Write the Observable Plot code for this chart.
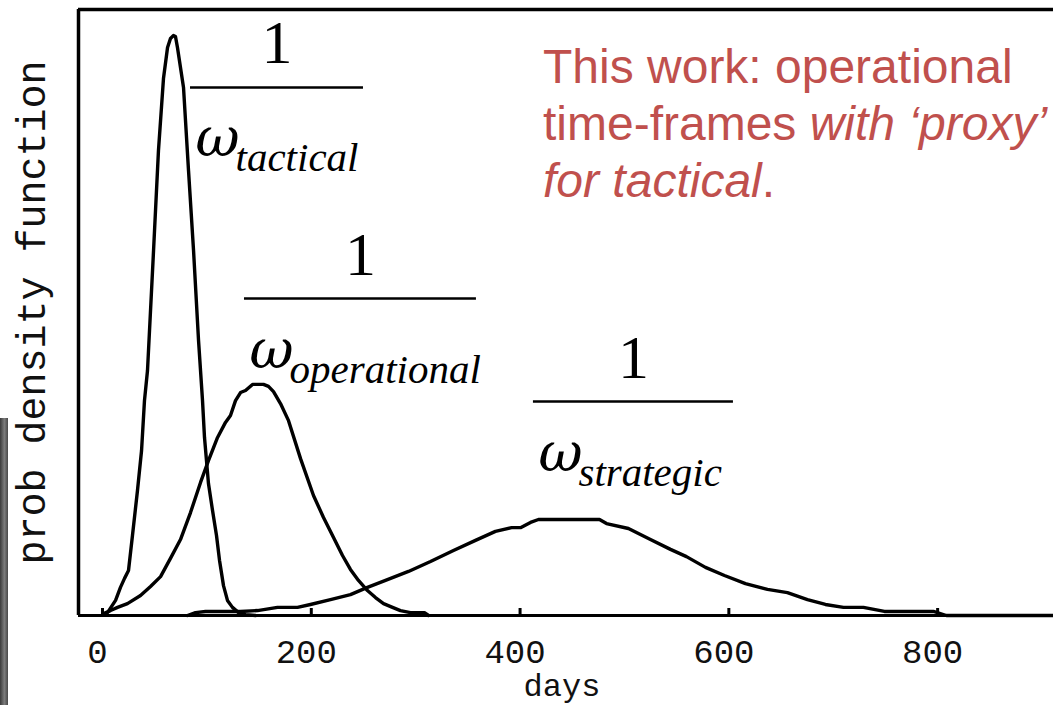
<!DOCTYPE html>
<html>
<head>
<meta charset="utf-8">
<script src="https://cdn.jsdelivr.net/npm/d3@7"></script>
<script src="https://cdn.jsdelivr.net/npm/@observablehq/plot@0.6"></script>
<style>
  body { margin: 0; background: #fff; }
  #wrap { position: relative; width: 1053px; height: 705px; overflow: hidden; background: #fff; }
  #strip { position: absolute; left: 0; top: 418px; width: 8px; height: 287px;
           background: linear-gradient(to right, #3a3a3a, #7c7c7c 55%, #484848); }
  #note { position: absolute; left: 543px; top: 38px; white-space: nowrap;
          font-family: "Liberation Sans", Arial, sans-serif; font-size: 48px; line-height: 57px; color: #c0504d; }
  #note i { font-style: italic; }
</style>
</head>
<body>
<div id="wrap">
  <div id="chart"></div>
  <div id="strip"></div>
  <div id="note">This work: operational<br>time-frames <i>with ‘proxy’</i><br><i>for tactical</i>.</div>
</div>
<script>
// ---- data (days, probability density ×10⁻³ per day) ----
const tacticalDays = [1.0,4.8,12.5,17.2,21.1,24.9,28.7,33.5,37.4,40.2,43.1,48.9,53.6,58.4,62.3,65.1,68.0,69.9,71.8,77.6,82.4,87.2,92.0,95.8,97.7,101.5,105.4,109.2,112.1,115.9,119.7,124.5,130.3,137.0,146.6];
const tacticalPdf  = [0.03,0.10,0.52,0.97,1.28,1.55,2.76,4.31,5.69,7.41,8.45,12.59,16.03,18.52,19.59,19.90,20.00,19.97,19.59,18.21,15.34,12.59,9.48,7.41,6.14,4.55,3.62,2.76,1.90,1.03,0.52,0.28,0.10,0.03,0];

const operationalDays = [1.0,7.7,14.4,23.9,36.4,46.0,55.6,65.1,74.7,84.3,93.9,101.5,110.2,117.8,122.6,127.4,132.2,137.0,143.7,154.2,159.0,163.8,170.5,178.2,189.7,202.1,211.7,221.3,229.9,237.5,245.2,253.8,261.5,269.2,277.8,285.4,295.0,308.4,312.3];
const operationalPdf  = [0.07,0.17,0.28,0.41,0.69,1.00,1.34,1.97,2.62,3.55,4.59,5.34,6.14,6.66,6.90,7.41,7.69,7.76,7.97,7.97,7.90,7.72,7.31,6.72,5.41,4.14,3.38,2.69,2.07,1.59,1.21,0.86,0.62,0.41,0.28,0.17,0.10,0.10,0];

const strategicDays = [81.4,89.1,98.7,132.2,148.5,167.6,186.8,199.2,218.4,237.5,253.8,271.1,293.1,314.2,336.2,357.3,376.4,391.8,400.4,410.0,417.6,476.1,482.8,503.8,524.9,544.1,559.4,577.6,595.8,615.9,637.0,656.1,675.3,692.5,709.8,728.9,749.0,796.0,808.4,910.0];
const strategicPdf  = [0,0.10,0.14,0.14,0.17,0.28,0.28,0.38,0.55,0.72,0.97,1.21,1.52,1.86,2.24,2.59,2.90,3.03,3.03,3.21,3.31,3.31,3.17,3.00,2.62,2.28,2.03,1.66,1.38,1.10,0.90,0.79,0.55,0.38,0.28,0.28,0.14,0.14,0,0];

// axis
const xDomain = [-23, 911];
const yDomain = [0, 20.9];
const tickValues = [0, 200, 400, 600, 800];
const xLabel = "days";
const yLabel = "prob density function";

// fraction annotations 1/ω_x
const fracNames = ["tactical", "operational", "strategic"];
const fracX1 = [84.3, 136.0, 412.8];
const fracX2 = [250.0, 358.2, 604.4];
const fracY  = [18.21, 10.93, 7.38];

// ---- build tables ----
const series = [
  ...tacticalDays.map((d, i) => ({name: "tactical", day: d, pdf: tacticalPdf[i]})),
  ...operationalDays.map((d, i) => ({name: "operational", day: d, pdf: operationalPdf[i]})),
  ...strategicDays.map((d, i) => ({name: "strategic", day: d, pdf: strategicPdf[i]}))
];
const fracs = fracNames.map((n, i) => ({name: n, x1: fracX1[i], x2: fracX2[i], xm: (fracX1[i] + fracX2[i]) / 2, y: fracY[i]}));

const W = 1053, H = 705;
const mT = 9, mB = 90, mL = 78, mR = 0;
const plotH = H - mT - mB;

const chart = Plot.plot({
  width: W, height: H,
  marginTop: mT, marginBottom: mB, marginLeft: mL, marginRight: mR,
  x: {domain: xDomain, axis: null},
  y: {domain: yDomain, axis: null},
  marks: [
    // frame: left, top, baseline
    Plot.ruleX([xDomain[0]], {stroke: "#000", strokeWidth: 3.5}),
    Plot.ruleY([yDomain[1]], {stroke: "#000", strokeWidth: 3.5}),
    Plot.ruleY([0], {stroke: "#000", strokeWidth: 3.2}),
    // inward ticks
    Plot.ruleX(tickValues, {stroke: "#000", strokeWidth: 3, insetTop: plotH - 7}),
    Plot.axisX(tickValues, {tickSize: 0, tickPadding: 23, dx: -5, label: null,
      fontFamily: "Liberation Mono, monospace", fontSize: 34, fill: "#111", tickFormat: d => String(d)}),
    Plot.text([xLabel], {frameAnchor: "bottom", dx: -4, dy: 80, lineAnchor: "bottom",
      fontFamily: "Liberation Mono, monospace", fontSize: 32, fill: "#111"}),
    Plot.text([yLabel], {frameAnchor: "left", dx: -46, rotate: -90, lineAnchor: "middle", textAnchor: "middle",
      fontFamily: "Liberation Mono, monospace", fontSize: 40, fill: "#111"}),
    // curves
    Plot.line(series, {x: "day", y: "pdf", z: "name", stroke: "#000", strokeWidth: 3.4, strokeLinejoin: "round"}),
    // fraction annotations
    Plot.ruleY(fracs, {y: "y", x1: "x1", x2: "x2", stroke: "#000", strokeWidth: 2.5}),
    Plot.text(fracs, {x: "xm", y: "y", text: () => "1", dy: -24, lineAnchor: "bottom", textAnchor: "middle",
      fontFamily: "Liberation Serif, serif", fontSize: 62, fill: "#000"}),
    Plot.text(fracs, {x: "x1", y: "y", text: () => "ω", dx: 5, dy: 69, lineAnchor: "bottom", textAnchor: "start",
      fontFamily: "DejaVu Serif, serif", fontStyle: "italic", fontSize: 54, fill: "#000"}),
    Plot.text(fracs, {x: "x1", y: "y", text: "name", dx: 45, dy: 84, lineAnchor: "bottom", textAnchor: "start",
      fontFamily: "Liberation Serif, serif", fontStyle: "italic", fontSize: 41, fill: "#000"})
  ]
});
document.getElementById("chart").appendChild(chart);
</script>
</body>
</html>
